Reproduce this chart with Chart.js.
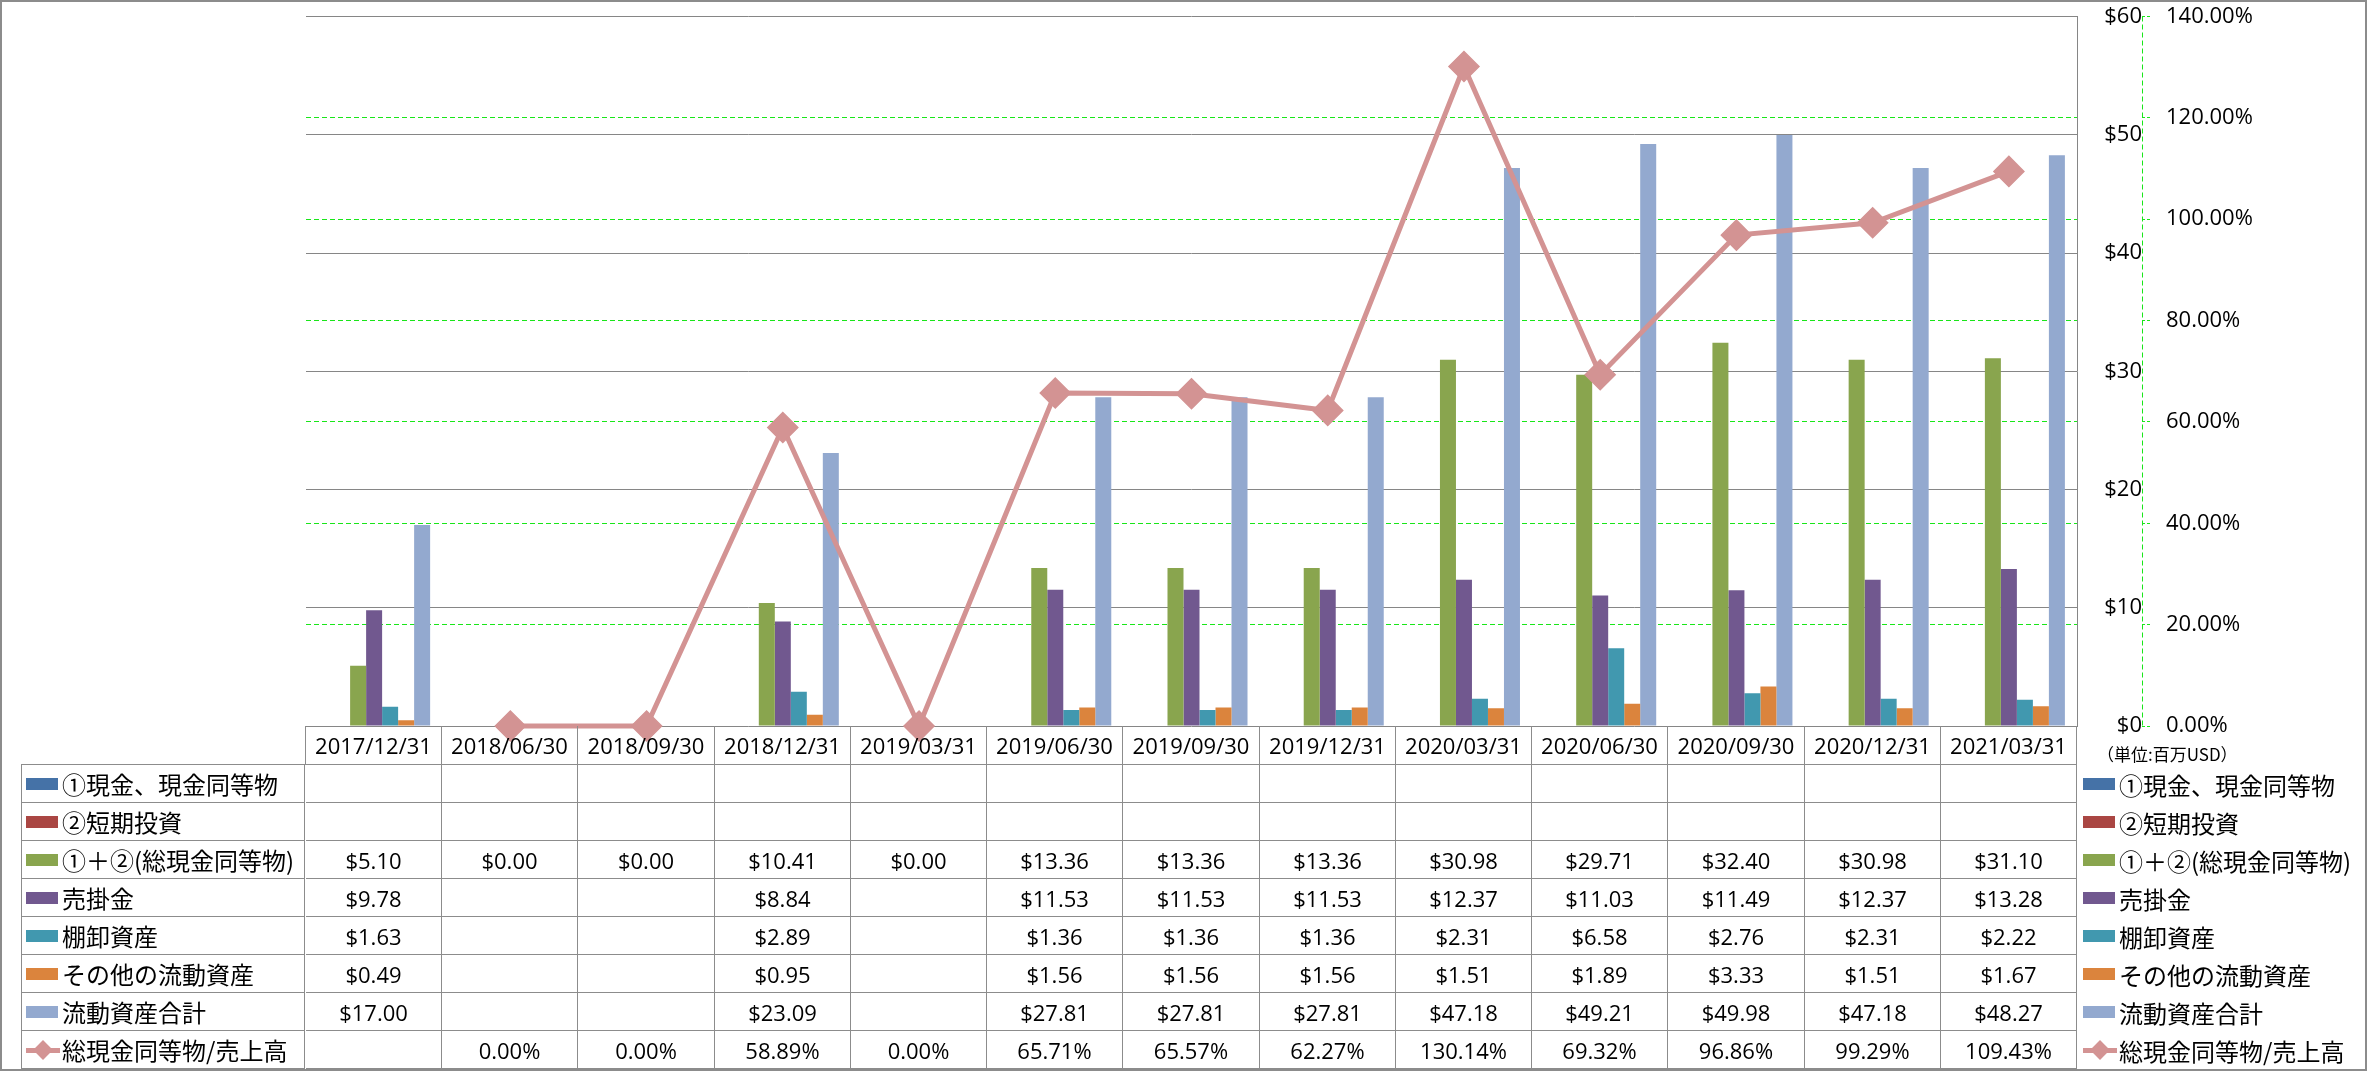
<!DOCTYPE html>
<html lang="ja">
  <head>
    <meta charset="UTF-8" />
    <title>流動資産の推移</title>
    <script src="https://cdn.jsdelivr.net/npm/chart.js"></script>
    <style>
      html,
      body {
        margin: 0;
        padding: 0;
        background: #fff;
        overflow: hidden;
      }

      #wrap {
        position: relative;
        width: 2367px;
        height: 1071px;
        font-family: "Open Sans", "Noto Sans CJK JP", sans-serif;
        color: #000;
      }

      #chart {
        position: absolute;
        left: 0;
        top: 0;
      }

      #frame {
        position: absolute;
        left: 0;
        top: 0;
        width: 2367px;
        height: 1071px;
        box-sizing: border-box;
        border: 2px solid #8c8c8c;
        pointer-events: none;
      }

      .cell {
        position: absolute;
        box-sizing: border-box;
        border-right: 1px solid #8c8c8c;
        border-bottom: 1px solid #8c8c8c;
        font-size: 22px;
        display: flex;
        align-items: center;
        justify-content: center;
        white-space: nowrap;
      }

      .key {
        position: absolute;
        box-sizing: border-box;
        display: flex;
        align-items: center;
        font-family: "Noto Sans CJK JP", sans-serif;
        font-size: 24px;
        white-space: nowrap;
      }

      .sw {
        width: 32px;
        height: 12px;
        margin-right: 4px;
        flex: none;
      }

      .linekey {
        position: relative;
        width: 34px;
        height: 20px;
        margin-right: 2px;
        flex: none;
      }

      .linekey::before {
        content: "";
        position: absolute;
        left: 0;
        right: 0;
        top: 8px;
        height: 5px;
        background: #d39393;
      }

      .linekey::after {
        content: "";
        position: absolute;
        left: 10px;
        top: 3px;
        width: 14px;
        height: 14px;
        background: #d39393;
        transform: rotate(45deg);
      }

      #unit {
        position: absolute;
        left: 2097px;
        top: 741px;
        font-family: "Noto Sans CJK JP", sans-serif;
        font-size: 17px;
      }
    </style>
  </head>
  <body>
    <div id="wrap">
      <canvas id="chart" width="2367" height="1071"></canvas>
      <div id="unit">（単位:百万USD）</div>
      <div id="frame"></div>
    </div>

    <script>
      // 期末日
      const categories = [
        "2017/12/31", "2018/06/30", "2018/09/30", "2018/12/31", "2019/03/31",
        "2019/06/30", "2019/09/30", "2019/12/31", "2020/03/31", "2020/06/30",
        "2020/09/30", "2020/12/31", "2021/03/31",
      ];

      // 系列名
      const seriesNames = [
        "①現金、現金同等物",
        "②短期投資",
        "①＋②(総現金同等物)",
        "売掛金",
        "棚卸資産",
        "その他の流動資産",
        "流動資産合計",
        "総現金同等物/売上高",
      ];

      // 値（百万USD）
      const cashEquivalents = [null, null, null, null, null, null, null, null, null, null, null, null, null];
      const shortTermInvest = [null, null, null, null, null, null, null, null, null, null, null, null, null];
      const totalCash = [5.10, 0.00, 0.00, 10.41, 0.00, 13.36, 13.36, 13.36, 30.98, 29.71, 32.40, 30.98, 31.10];
      const receivables = [9.78, null, null, 8.84, null, 11.53, 11.53, 11.53, 12.37, 11.03, 11.49, 12.37, 13.28];
      const inventory = [1.63, null, null, 2.89, null, 1.36, 1.36, 1.36, 2.31, 6.58, 2.76, 2.31, 2.22];
      const otherCurrent = [0.49, null, null, 0.95, null, 1.56, 1.56, 1.56, 1.51, 1.89, 3.33, 1.51, 1.67];
      const totalCurrent = [17.00, null, null, 23.09, null, 27.81, 27.81, 27.81, 47.18, 49.21, 49.98, 47.18, 48.27];

      // 総現金同等物/売上高（%）
      const cashToSales = [null, 0.00, 0.00, 58.89, 0.00, 65.71, 65.57, 62.27, 130.14, 69.32, 96.86, 99.29, 109.43];

      // 軸目盛
      const usdTicks = { min: 0, max: 60, step: 10 };
      const pctTicks = { min: 0, max: 140, step: 20 };

      const barSeries = [cashEquivalents, shortTermInvest, totalCash, receivables, inventory, otherCurrent, totalCurrent];
      const barColors = ["#4572a7", "#aa4643", "#89a54e", "#71588f", "#4198af", "#db843d", "#93a9cf"];
      const lineColor = "#d39393";
      const gridGray = "#868686";
      const gridGreen = "#19e619";
      const tickFont = { family: "'Open Sans', 'Noto Sans CJK JP', sans-serif", size: 22 };

      const datasets = barSeries.map((values, i) => ({
        type: "bar",
        label: seriesNames[i],
        data: values,
        backgroundColor: barColors[i],
        borderWidth: 0,
        yAxisID: "y",
      }));

      datasets.push({
        type: "line",
        label: seriesNames[7],
        data: cashToSales,
        borderColor: lineColor,
        borderWidth: 5,
        backgroundColor: lineColor,
        pointStyle: "rectRot",
        pointRadius: 15,
        pointBorderWidth: 1.5,
        pointBackgroundColor: lineColor,
        pointBorderColor: lineColor,
        tension: 0,
        clip: false,
        order: -1,
        yAxisID: "y1",
      });

      // ラベル分の余白を付けずにプロット領域を固定する
      const noPad = (s) => {
        s.paddingTop = 0;
        s.paddingBottom = 0;
        s.paddingLeft = 0;
        s.paddingRight = 0;
      };

      // 第2軸の軸線（破線）
      const dashedAxis = {
        id: "dashedAxis",
        afterDraw(chart) {
          const s = chart.scales.y1;
          const ctx = chart.ctx;
          const x = Math.round(s.left) + 0.5;
          ctx.save();
          ctx.strokeStyle = gridGreen;
          ctx.lineWidth = 1;
          ctx.setLineDash([5, 3]);
          ctx.beginPath();
          ctx.moveTo(x, s.top);
          ctx.lineTo(x, s.bottom);
          ctx.stroke();
          ctx.restore();
        },
      };

      const chart = new Chart(document.getElementById("chart"), {
        data: { labels: categories, datasets: datasets },
        plugins: [dashedAxis],
        options: {
          responsive: false,
          animation: false,
          events: [],
          layout: { padding: { left: 306, top: 15, right: 75, bottom: 345 } },
          plugins: {
            legend: { display: false },
            tooltip: { enabled: false },
          },
          datasets: {
            bar: { categoryPercentage: 0.8223, barPercentage: 1 },
          },
          scales: {
            x: { display: false, afterFit: noPad },
            y: {
              position: "right",
              weight: 0,
              min: usdTicks.min,
              max: usdTicks.max,
              ticks: {
                stepSize: usdTicks.step,
                padding: 24,
                crossAlign: "far",
                color: "#000",
                font: tickFont,
                callback: (v) => "$" + v,
              },
              grid: { color: gridGray, lineWidth: 1, drawTicks: false },
              border: { display: true, color: gridGray, width: 1 },
              afterFit: (s) => {
                noPad(s);
                s.width = 65;
              },
            },
            y1: {
              position: "right",
              weight: 1,
              min: pctTicks.min,
              max: pctTicks.max,
              ticks: {
                stepSize: pctTicks.step,
                padding: 16,
                color: "#000",
                font: tickFont,
                callback: (v) => v.toFixed(2) + "%",
              },
              grid: {
                color: (ctx) =>
                  ctx.tick && (ctx.tick.value === pctTicks.min || ctx.tick.value === pctTicks.max)
                    ? "rgba(0,0,0,0)"
                    : gridGreen,
                lineWidth: 1,
                tickLength: 8,
                tickColor: gridGreen,
                tickBorderDash: [3, 2],
              },
              border: { display: false, dash: [5, 3] },
              afterFit: (s) => {
                noPad(s);
                s.width = 150;
              },
            },
          },
        },
      });

      // データテーブル（チャートのx軸に合わせて配置）
      function addDiv(cls, left, top, width, height, extra) {
        const d = document.createElement("div");
        d.className = cls;
        d.style.left = left + "px";
        d.style.top = top + "px";
        d.style.width = width + "px";
        d.style.height = height + "px";
        if (extra) Object.assign(d.style, extra);
        document.getElementById("wrap").insertBefore(d, document.getElementById("frame"));
        return d;
      }

      function keyContent(el, i) {
        if (i < 7) {
          const sw = document.createElement("span");
          sw.className = "sw";
          sw.style.background = barColors[i];
          el.appendChild(sw);
        } else {
          const lk = document.createElement("span");
          lk.className = "linekey";
          el.appendChild(lk);
        }
        const t = document.createElement("span");
        t.textContent = seriesNames[i];
        el.appendChild(t);
      }

      function buildTable() {
        const xs = chart.scales.x;
        const area = chart.chartArea;
        const n = categories.length;
        const colW = (area.right - area.left) / n;
        const edge = (i) => (i < n ? Math.round(xs.getPixelForValue(i) - colW / 2) : Math.round(area.right));
        const headTop = Math.round(area.bottom);
        const bodyTop = 765;
        const rowH = 38;
        const tableLeft = 21;

        categories.forEach((c, i) => {
          const first = i === 0;
          const cell = addDiv("cell", edge(i) - (first ? 1 : 0), headTop, edge(i + 1) - edge(i) + (first ? 1 : 0), bodyTop - headTop,
            first ? { borderLeft: "1px solid #8c8c8c" } : null);
          cell.textContent = c;
        });

        const rows = barSeries.concat([cashToSales]);
        rows.forEach((values, r) => {
          const top = bodyTop + r * rowH;
          const k = addDiv("key cell", tableLeft, top - (r === 0 ? 1 : 0), edge(0) - 1 - tableLeft, rowH + (r === 0 ? 1 : 0),
            Object.assign({ borderLeft: "1px solid #8c8c8c", justifyContent: "flex-start", paddingLeft: "4px", fontSize: "24px" },
              r === 0 ? { borderTop: "1px solid #8c8c8c" } : {}));
          keyContent(k, r);

          values.forEach((v, i) => {
            const cell = addDiv("cell", edge(i), top, edge(i + 1) - edge(i), rowH);
            if (v !== null) cell.textContent = r < 7 ? "$" + v.toFixed(2) : v.toFixed(2) + "%";
          });

          const rk = addDiv("key", edge(n) + 6, top, 280, rowH);
          keyContent(rk, r);
        });
      }

      buildTable();
    </script>
  </body>
</html>
